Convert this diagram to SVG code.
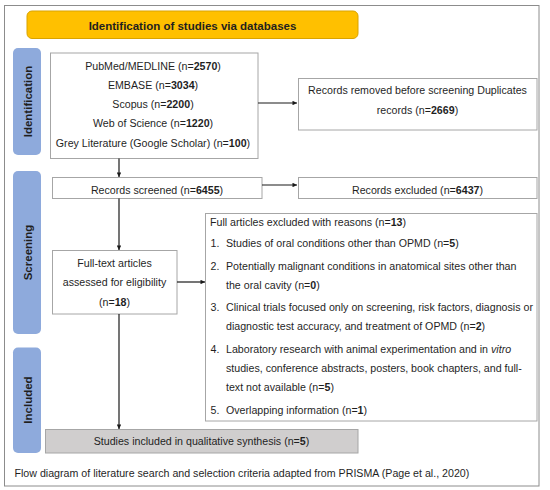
<svg xmlns="http://www.w3.org/2000/svg" width="550" height="490" viewBox="0 0 550 490">
<style>
text{font-family:"Liberation Sans",Arial,sans-serif;font-size:10.65px;fill:#1f1f1f}
.b{font-weight:bold}
.c{text-anchor:middle}
.box{fill:#fff;stroke:#a6a6a6;stroke-width:1}
.tab{fill:#8eaadc;stroke:none}
.tabt{font-size:11.5px;font-weight:bold;text-anchor:middle}
.con{stroke:#1a1a1a;stroke-width:1.2;fill:none;marker-end:url(#ah)}
</style>
<defs>
<marker id="ah" viewBox="0 0 10 10" refX="10" refY="5" markerWidth="5" markerHeight="4.5" markerUnits="userSpaceOnUse" orient="auto">
<path d="M0,0L10,5L0,10z" fill="#1a1a1a"/>
</marker>
</defs>
<rect x="4.5" y="5.5" width="534.5" height="480.5" fill="#fff" stroke="#8c8c8c" stroke-width="1"/>
<g id="header">
<rect x="27" y="11" width="331" height="27.5" rx="5" fill="#ffc000" stroke="#d9a300" stroke-width="1"/>
<text class="b c" x="192.5" y="30" style="font-size:11.5px">Identification of studies via databases</text>
</g>
<g id="tab-identification">
<rect class="tab" x="13" y="48" width="28" height="107" rx="5"/>
<text class="tabt" transform="translate(31.5,101.5) rotate(-90)">Identification</text>
</g>
<g id="tab-screening">
<rect class="tab" x="13" y="171" width="28" height="163" rx="5"/>
<text class="tabt" transform="translate(31.5,252.5) rotate(-90)">Screening</text>
</g>
<g id="tab-included">
<rect class="tab" x="13" y="347.5" width="28" height="105.5" rx="5"/>
<text class="tabt" transform="translate(31.5,400) rotate(-90)">Included</text>
</g>
<g id="databases">
<rect class="box" x="50.5" y="53" width="207.5" height="105.5"/>
<text class="c" x="153" y="69.7">PubMed/MEDLINE (n=<tspan class="b">2570</tspan>)</text>
<text class="c" x="153" y="89">EMBASE (n=<tspan class="b">3034</tspan>)</text>
<text class="c" x="153" y="108.2">Scopus (n=<tspan class="b">2200</tspan>)</text>
<text class="c" x="153" y="127.4">Web of Science (n=<tspan class="b">1220</tspan>)</text>
<text class="c" x="153" y="146.6">Grey Literature (Google Scholar) (n=<tspan class="b">100</tspan>)</text>
</g>
<g id="removed">
<rect class="box" x="298.5" y="78.5" width="238.5" height="51.5"/>
<text class="c" x="417.5" y="94.4">Records removed before screening Duplicates</text>
<text class="c" x="417.5" y="113.7">records (n=<tspan class="b">2669</tspan>)</text>
</g>
<g id="screened">
<rect class="box" x="52.5" y="177.5" width="209.5" height="21"/>
<text class="c" x="157" y="194">Records screened (n=<tspan class="b">6455</tspan>)</text>
</g>
<g id="excluded">
<rect class="box" x="298.5" y="177.5" width="238.5" height="21"/>
<text class="c" x="417.5" y="193.5">Records excluded (n=<tspan class="b">6437</tspan>)</text>
</g>
<g id="fulltext">
<rect class="box" x="52.5" y="250.5" width="124.5" height="63.5"/>
<text class="c" x="114.5" y="266.7">Full-text articles</text>
<text class="c" x="114.5" y="286.3">assessed for eligibility</text>
<text class="c" x="114.5" y="305.8">(n=<tspan class="b">18</tspan>)</text>
</g>
<g id="reasons">
<rect class="box" x="205.5" y="213.5" width="331.5" height="207.5"/>
<text x="210" y="226">Full articles excluded with reasons (n=<tspan class="b">13</tspan>)</text>
<text x="210.5" y="247">1.</text>
<text x="226" y="247">Studies of oral conditions other than OPMD (n=<tspan class="b">5</tspan>)</text>
<text x="210.5" y="269.5">2.</text>
<text x="226" y="269.5">Potentially malignant conditions in anatomical sites other than</text>
<text x="226" y="288.7">the oral cavity (n=<tspan class="b">0</tspan>)</text>
<text x="210.5" y="311.4">3.</text>
<text x="226" y="311.4">Clinical trials focused only on screening, risk factors, diagnosis or</text>
<text x="226" y="330.4">diagnostic test accuracy, and treatment of OPMD (n=<tspan class="b">2</tspan>)</text>
<text x="210.5" y="353">4.</text>
<text x="226" y="353">Laboratory research with animal experimentation and in <tspan font-style="italic">vitro</tspan></text>
<text x="226" y="372">studies, conference abstracts, posters, book chapters, and full-</text>
<text x="226" y="391">text not available (n=<tspan class="b">5</tspan>)</text>
<text x="210.5" y="413.7">5.</text>
<text x="226" y="413.7">Overlapping information (n=<tspan class="b">1</tspan>)</text>
</g>
<g id="included">
<rect x="45.5" y="429.5" width="312.5" height="23.5" fill="#d0cece" stroke="#a6a6a6" stroke-width="1"/>
<text class="c" x="201.5" y="445">Studies included in qualitative synthesis (n=<tspan class="b">5</tspan>)</text>
</g>
<g id="connectors">
<line class="con" x1="258" y1="103" x2="297" y2="103"/>
<line class="con" x1="262" y1="185" x2="297" y2="185"/>
<line class="con" x1="177" y1="282" x2="205" y2="282"/>
<line class="con" x1="119" y1="158.5" x2="119" y2="177"/>
<line class="con" x1="119" y1="198.5" x2="119" y2="250"/>
<line class="con" x1="119" y1="314" x2="119" y2="429"/>
</g>
<text x="14.5" y="477">Flow diagram of literature search and selection criteria adapted from PRISMA (Page et al., 2020)</text>
</svg>
